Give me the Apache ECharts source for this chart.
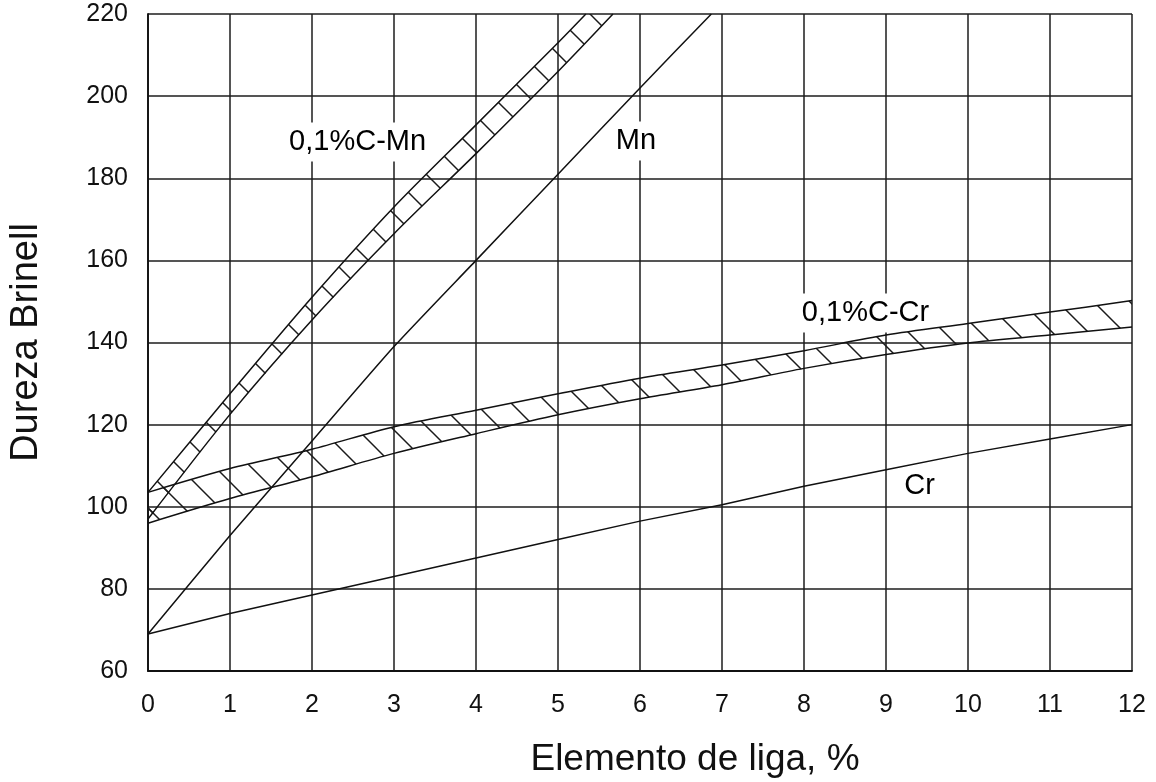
<!DOCTYPE html>
<html><head><meta charset="utf-8">
<script src="https://cdn.jsdelivr.net/npm/echarts@6/dist/echarts.min.js"></script>
<style>html,body{margin:0;padding:0;background:#fff}#c{width:1156px;height:782px}</style>
</head><body><div id="c"></div>
<script>
// ---- data ----
const xTicks = [0, 1, 2, 3, 4, 5, 6, 7, 8, 9, 10, 11, 12];
const yTicks = [60, 80, 100, 120, 140, 160, 180, 200, 220];

const crX = [0, 1, 2, 3, 4, 5, 6, 7, 8, 9, 10, 11, 12];
const crY = [69, 74, 78.5, 83, 87.5, 92, 96.5, 100.5, 105, 109, 113, 116.5, 120];

const mnX = [0, 1, 2, 3, 4, 5, 6, 6.87];
const mnY = [69, 93, 116, 139, 160, 181, 202, 220];

const cmnUpperX = [0, 1, 2, 3, 4, 5, 5.34];
const cmnUpperY = [103.5, 127.5, 151, 173, 193, 213, 220];
const cmnLowerX = [0, 1, 2, 3, 4, 5, 5.67];
const cmnLowerY = [97, 122.5, 145.5, 166.5, 186, 206, 220];

const ccrX = [0, 1, 2, 3, 4, 5, 6, 7, 8, 9, 10, 11, 12];
const ccrUpperY = [103.5, 109.3, 114, 119.5, 123.5, 127.5, 131.3, 134.5, 138, 141.8, 144.6, 147.4, 150.2];
const ccrLowerY = [96, 102, 107.3, 113, 117.8, 122.4, 126.3, 129.7, 133.7, 137.1, 139.9, 141.8, 143.8];

const labelNames = ['0,1%C-Mn', 'Mn', '0,1%C-Cr', 'Cr'];
const labelX = [2.556, 5.95, 8.75, 9.41];
const labelY = [188.8, 189.1, 147.2, 105.05];

const yTitle = 'Dureza Brinell';
const xTitle = 'Elemento de liga, %';

// ---- helpers ----
const FONT = '"Liberation Sans", Arial, Helvetica, sans-serif';
const INK = '#111';
function zip(xs, ys) { return xs.map((x, i) => [x, ys[i]]); }

function makeHatch() {
  const s = 36, c = document.createElement('canvas');
  c.width = s; c.height = s;
  const g = c.getContext('2d');
  g.strokeStyle = '#1a1a1a'; g.lineWidth = 1.5;
  for (const o of [-s, 0, s]) {
    g.beginPath(); g.moveTo(o - 2, -2); g.lineTo(o + s + 2, s + 2); g.stroke();
  }
  return c;
}
const hatch = makeHatch();

function band(upX, upY, loX, loY) {
  return {
    type: 'custom', silent: true, z: 3, data: [[0, 100]],
    renderItem: function (params, api) {
      const pts = [];
      upX.forEach((x, i) => pts.push(api.coord([x, upY[i]])));
      for (let i = loX.length - 1; i >= 0; i--) pts.push(api.coord([loX[i], loY[i]]));
      return { type: 'polygon', shape: { points: pts },
        style: { fill: { image: hatch, repeat: 'repeat' }, stroke: null } };
    }
  };
}
function line(xs, ys, smooth) {
  return { type: 'line', data: zip(xs, ys), showSymbol: false, symbol: 'none', silent: true,
    smooth: smooth, z: 4, lineStyle: { color: INK, width: 1.5 } };
}

const chart = echarts.init(document.getElementById('c'), null, { renderer: 'canvas' });
chart.setOption({
  animation: false,
  backgroundColor: '#fff',
  grid: { left: 146, right: 24, top: 14, bottom: 111 },
  xAxis: {
    type: 'value', min: xTicks[0], max: xTicks[xTicks.length - 1], interval: 1,
    axisLine: { show: true, lineStyle: { color: INK, width: 1.8 } },
    axisTick: { show: false },
    splitLine: { show: true, lineStyle: { color: '#1c1c1c', width: 1.5 } },
    axisLabel: { fontSize: 25, color: INK, margin: 22, fontFamily: FONT }
  },
  yAxis: {
    type: 'value', min: yTicks[0], max: yTicks[yTicks.length - 1], interval: 20,
    name: yTitle, nameLocation: 'middle', nameGap: 102,
    nameTextStyle: { fontSize: 38, color: INK, fontFamily: FONT },
    axisLine: { show: true, lineStyle: { color: INK, width: 1.8 } },
    axisTick: { show: false },
    splitLine: { show: true, lineStyle: { color: '#1c1c1c', width: 1.5 } },
    axisLabel: { fontSize: 25, color: INK, margin: 20, fontFamily: FONT }
  },
  graphic: [{
    type: 'text', x: 695, y: 760,
    style: { text: xTitle, font: '37px ' + FONT, fill: INK, align: 'center', verticalAlign: 'middle' }
  }],
  series: [
    {
      type: 'scatter', silent: true, z: 2, symbolSize: 0,
      itemStyle: { color: '#000', opacity: 1 },
      data: labelNames.map((n, i) => ({ name: n, value: [labelX[i], labelY[i]] })),
      label: { show: true, position: [0, 0], align: 'center', verticalAlign: 'middle',
        formatter: '{b}', fontSize: 29, color: '#000', opacity: 1,
        fontFamily: FONT, backgroundColor: '#fff', padding: [7, 4, 3, 4] }
    },
    band(cmnUpperX, cmnUpperY, cmnLowerX, cmnLowerY),
    band(ccrX, ccrUpperY, ccrX, ccrLowerY),
    line(cmnUpperX, cmnUpperY, 0.3),
    line(cmnLowerX, cmnLowerY, 0.3),
    line(ccrX, ccrUpperY, 0.3),
    line(ccrX, ccrLowerY, 0.3),
    line(mnX, mnY, 0.2),
    line(crX, crY, 0)
  ]
});
</script></body></html>
